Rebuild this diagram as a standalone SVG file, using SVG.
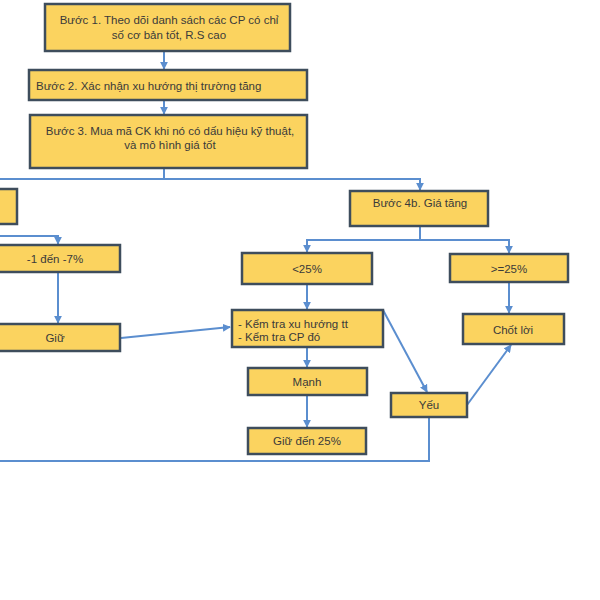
<svg xmlns="http://www.w3.org/2000/svg" width="600" height="600" viewBox="0 0 600 600">
<defs>
<marker id="ah" viewBox="0 0 10 10" refX="9" refY="5" markerWidth="4" markerHeight="4" orient="auto" markerUnits="strokeWidth">
<path d="M0,0 L10,5 L0,10 z" fill="#5B8ECF"/>
</marker>
<style>
.box{fill:#FBD35F;stroke:#3E4D5C;stroke-width:2.5}
.t{font-family:"Liberation Sans",Arial,sans-serif;font-size:11.5px;fill:#3a3a3a}
.c{text-anchor:middle}
.ln{fill:none;stroke:#5B8ECF;stroke-width:2}
.ar{marker-end:url(#ah)}
</style>
</defs>
<rect width="600" height="600" fill="#ffffff"/>
<g id="connectors">
<line class="ln ar" x1="164" y1="51" x2="164" y2="69"/>
<line class="ln ar" x1="164" y1="100" x2="164" y2="114"/>
<line class="ln" x1="164" y1="168" x2="164" y2="179"/>
<polyline class="ln ar" points="-10,179 420,179 420,190"/>
<polyline class="ln" points="420,226 420,240"/>
<polyline class="ln ar" points="420,240 307,240 307,252"/>
<polyline class="ln ar" points="420,240 509,240 509,253"/>
<polyline class="ln ar" points="-10,236 58,236 58,244"/>
<line class="ln ar" x1="58" y1="272" x2="58" y2="323"/>
<line class="ln ar" x1="121" y1="338" x2="230" y2="327"/>
<line class="ln ar" x1="307" y1="284" x2="307" y2="309"/>
<line class="ln ar" x1="509" y1="282" x2="509" y2="313"/>
<line class="ln ar" x1="307" y1="347" x2="307" y2="367"/>
<line class="ln ar" x1="307" y1="395" x2="307" y2="427"/>
<line class="ln ar" x1="383" y1="310" x2="427" y2="392"/>
<line class="ln ar" x1="467" y1="405" x2="511" y2="345"/>
<polyline class="ln" points="429,417 429,461 -10,461"/>
</g>
<g id="step1"><rect class="box" x="45" y="4" width="245" height="47"/>
<text class="t c" x="169" y="24">Bước 1. Theo dõi danh sách các CP có chỉ</text>
<text class="t c" x="169" y="39">số cơ bản tốt, R.S cao</text></g>
<g id="step2"><rect class="box" x="29" y="70" width="278" height="30"/>
<text class="t" x="36" y="90">Bước 2. Xác nhận xu hướng thị trường tăng</text></g>
<g id="step3"><rect class="box" x="30" y="115" width="277" height="53"/>
<text class="t c" x="170" y="135">Bước 3. Mua  mã CK khi nó có dấu hiệu kỹ thuật,</text>
<text class="t c" x="170" y="149">và mô hình  giá tốt</text></g>
<g id="step4a"><rect class="box" x="-100" y="189" width="117" height="35"/></g>
<g id="step4b"><rect class="box" x="350" y="191" width="138" height="35"/>
<text class="t c" x="420" y="207">Bước 4b. Giá tăng</text></g>
<g id="down1to7"><rect class="box" x="-4" y="245" width="124" height="27"/>
<text class="t c" x="55" y="263">-1 đến -7%</text></g>
<g id="hold"><rect class="box" x="-4" y="324" width="124" height="27"/>
<text class="t c" x="55" y="342">Giữ</text></g>
<g id="lt25"><rect class="box" x="242" y="253" width="130" height="31"/>
<text class="t c" x="307" y="273">&lt;25%</text></g>
<g id="ge25"><rect class="box" x="450" y="254" width="118" height="28"/>
<text class="t c" x="509" y="273">&gt;=25%</text></g>
<g id="check"><rect class="box" x="232" y="310" width="151" height="37"/>
<text class="t" x="238" y="328">- Kểm tra xu hướng tt</text>
<text class="t" x="238" y="341">- Kểm tra CP đó</text></g>
<g id="takeprofit"><rect class="box" x="463" y="314" width="101" height="30"/>
<text class="t c" x="513" y="334">Chốt lời</text></g>
<g id="strong"><rect class="box" x="248" y="368" width="119" height="27"/>
<text class="t c" x="307" y="386">Mạnh</text></g>
<g id="weak"><rect class="box" x="391" y="393" width="76" height="24"/>
<text class="t c" x="429" y="409">Yếu</text></g>
<g id="hold25"><rect class="box" x="248" y="428" width="118" height="26"/>
<text class="t c" x="307" y="445">Giữ đến 25%</text></g>
</svg>
